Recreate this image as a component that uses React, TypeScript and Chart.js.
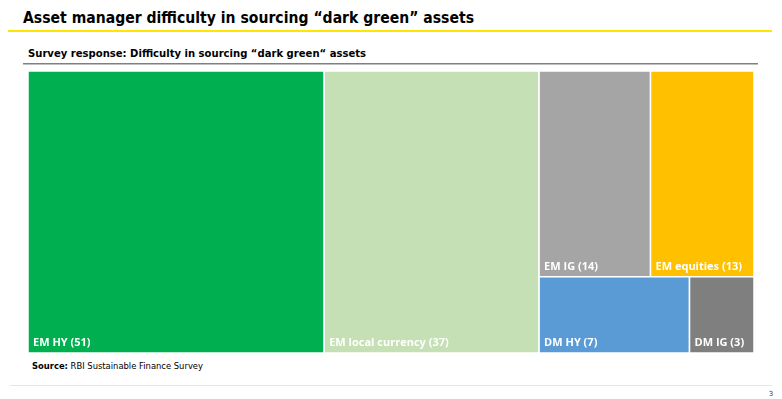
import { useEffect, useRef } from "react";
import { Chart, registerables } from "chart.js";

Chart.register(...registerables);

const categories = ["EM HY", "EM local currency", "EM IG", "EM equities", "DM HY", "DM IG"];
const counts = [51, 37, 14, 13, 7, 3];
const colors = ["#00B050", "#C5E0B4", "#A5A5A5", "#FFC000", "#5B9BD5", "#7F7F7F"];

const titleText = "Asset manager difficulty in sourcing \u201cdark green\u201d assets";
const subtitleText = "Survey response: Difficulty in sourcing \u201cdark green\u201c assets";
const sourceLabel = "Source:";
const sourceText = " RBI Sustainable Finance Survey";
const pageNumber = "3";

type Rect = { i: number; x: number; y: number; w: number; h: number };

function worst(areas: number[], side: number) {
  const s = areas.reduce((a, b) => a + b, 0);
  const mx = Math.max(...areas);
  const mn = Math.min(...areas);
  return Math.max((side * side * mx) / (s * s), (s * s) / (side * side * mn));
}

function squarify(values: number[], W: number, H: number): Rect[] {
  const total = values.reduce((a, b) => a + b, 0);
  const areas = values.map((v) => (v * W * H) / total);
  const out: Rect[] = [];
  let x = 0, y = 0, w = W, h = H;
  let i = 0;
  while (i < areas.length) {
    const side = Math.min(w, h);
    let row = [areas[i]];
    let best = worst(row, side);
    let j = i + 1;
    while (j < areas.length) {
      const cand = [...row, areas[j]];
      const wv = worst(cand, side);
      if (wv <= best) {
        row = cand;
        best = wv;
        j++;
      } else break;
    }
    const rs = row.reduce((a, b) => a + b, 0);
    if (w >= h) {
      const cw = rs / h;
      let yy = y;
      row.forEach((a, k) => {
        const hh = a / cw;
        out.push({ i: i + k, x, y: yy, w: cw, h: hh });
        yy += hh;
      });
      x += cw;
      w -= cw;
    } else {
      const rh = rs / w;
      let xx = x;
      row.forEach((a, k) => {
        const ww = a / rh;
        out.push({ i: i + k, x: xx, y, w: ww, h: rh });
        xx += ww;
      });
      y += rh;
      h -= rh;
    }
    i = j;
  }
  return out;
}

const treemapPlugin = {
  id: "treemapDraw",
  afterDatasetsDraw(chart: any) {
    const { ctx, chartArea, scales } = chart;
    const W = chartArea.right - chartArea.left;
    const H = chartArea.bottom - chartArea.top;
    const rects = squarify(counts, W, H);
    const xs = scales.x;
    const ys = scales.y;
    ctx.save();
    rects.forEach((r) => {
      const x0 = xs.getPixelForValue(r.x / W);
      const x1 = xs.getPixelForValue((r.x + r.w) / W);
      const y0 = ys.getPixelForValue(r.y / H);
      const y1 = ys.getPixelForValue((r.y + r.h) / H);
      ctx.fillStyle = colors[r.i];
      ctx.fillRect(x0, y0, x1 - x0, y1 - y0);
      ctx.strokeStyle = "#FFFFFF";
      ctx.lineWidth = 1.5;
      ctx.strokeRect(x0, y0, x1 - x0, y1 - y0);
      ctx.fillStyle = "#FFFFFF";
      ctx.font = "bold 11px 'Open Sans', Lato, sans-serif";
      ctx.textAlign = "left";
      ctx.textBaseline = "alphabetic";
      ctx.fillText(`${categories[r.i]} (${counts[r.i]})`, x0 + 5, y1 - 7);
    });
    ctx.restore();
  },
};

function TreemapChart() {
  const ref = useRef<HTMLCanvasElement | null>(null);
  useEffect(() => {
    if (!ref.current) return;
    const chart = new Chart(ref.current, {
      type: "scatter",
      data: { datasets: [{ data: [] as any[] }] },
      options: {
        animation: false,
        responsive: false,
        devicePixelRatio: 1,
        layout: { padding: 1 },
        plugins: { legend: { display: false }, tooltip: { enabled: false } },
        scales: {
          x: { type: "linear", min: 0, max: 1, display: false },
          y: { type: "linear", min: 0, max: 1, reverse: true, display: false },
        },
      },
      plugins: [treemapPlugin],
    });
    return () => chart.destroy();
  }, []);
  return (
    <canvas
      ref={ref}
      width={728}
      height={284}
      style={{ position: "absolute", left: 27, top: 70, width: 728, height: 284 }}
    />
  );
}

export default function App() {
  return (
    <div
      style={{
        position: "fixed",
        left: 0,
        top: 0,
        width: 782,
        height: 399,
        background: "#FFFFFF",
        overflow: "hidden",
      }}
    >
      <svg width={782} height={399} style={{ position: "absolute", left: 0, top: 0 }}>
        <text
          x={23}
          y={23}
          fontFamily="'DejaVu Sans', sans-serif"
          fontWeight="bold"
          fontSize={15}
          fill="#000000"
          textLength={451}
          lengthAdjust="spacingAndGlyphs"
        >
          {titleText}
        </text>
        <rect x={8} y={30} width={764} height={2} fill="#FFE600" />
        <text
          x={28}
          y={57}
          fontFamily="'DejaVu Sans', sans-serif"
          fontWeight="bold"
          fontSize={10.5}
          fill="#000000"
          textLength={338}
          lengthAdjust="spacingAndGlyphs"
        >
          {subtitleText}
        </text>
        <rect x={23} y={63} width={735} height={1.5} fill="#808080" />
        <text
          x={32}
          y={369}
          fontFamily="'DejaVu Sans', sans-serif"
          fontSize={8}
          fill="#000000"
          textLength={171}
          lengthAdjust="spacingAndGlyphs"
        >
          <tspan fontWeight="bold">{sourceLabel}</tspan>
          <tspan>{sourceText}</tspan>
        </text>
        <rect x={10} y={385} width={762} height={1} fill="#E6E6E6" />
        <text
          x={771}
          y={396}
          fontFamily="'DejaVu Sans', sans-serif"
          fontSize={7}
          fill="#404040"
          textAnchor="middle"
        >
          {pageNumber}
        </text>
      </svg>
      <TreemapChart />
    </div>
  );
}
